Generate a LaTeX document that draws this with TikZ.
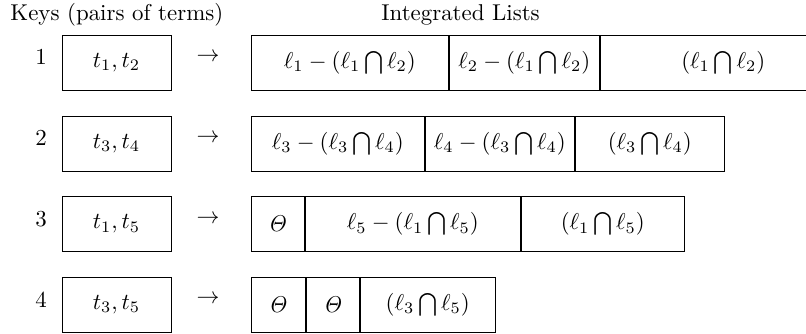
\documentclass[tikz,border=0pt]{standalone}
\begin{document}
\begin{tikzpicture}[x=0.437pt,y=-0.437pt,
  keybox/.style={draw, thin, minimum width=109*0.437pt, minimum height=55*0.437pt, inner sep=0pt},
  cell/.style={draw, thin, anchor=west, minimum height=55*0.437pt, inner sep=0pt},
  lab/.style={inner sep=0pt}]
\useasboundingbox (0,0) rectangle (806,333);
\node[lab, anchor=west] (hk) at (10,15) {Keys (pairs of terms)};
\node[lab, anchor=west] (hl) at (381,15) {Integrated Lists};
% row 1
\node[lab] (n1) at (41,57) {1};
\node[keybox] (k1) at (116.5,62.5) {$t_1, t_2$};
\node[lab] (a1) at (208,57) {$\rightarrow$};
\node[cell, minimum width=197.3*0.437pt] (c11) at (250.7,62.5) {$\ell_1-(\ell_1\bigcap\ell_2)$};
\node[cell, minimum width=150*0.437pt] (c12) at (c11.east) {$\ell_2-(\ell_1\bigcap\ell_2)$};
\node[cell, minimum width=246*0.437pt] (c13) at (c12.east) {$(\ell_1\bigcap\ell_2)$};
% row 2
\node[lab] (n2) at (41,138) {2};
\node[keybox] (k2) at (116.5,143.5) {$t_3, t_4$};
\node[lab] (a2) at (208,138) {$\rightarrow$};
\node[cell, minimum width=173.3*0.437pt] (c21) at (250.7,143.5) {$\ell_3-(\ell_3\bigcap\ell_4)$};
\node[cell, minimum width=149*0.437pt] (c22) at (c21.east) {$\ell_4-(\ell_3\bigcap\ell_4)$};
\node[cell, minimum width=149*0.437pt] (c23) at (c22.east) {$(\ell_3\bigcap\ell_4)$};
% row 3
\node[lab] (n3) at (41,219) {3};
\node[keybox] (k3) at (116.5,224) {$t_1, t_5$};
\node[lab] (a3) at (208,219) {$\rightarrow$};
\node[cell, minimum width=53.3*0.437pt] (c31) at (250.7,224) {$\mathit{\Theta}$};
\node[cell, minimum width=215*0.437pt] (c32) at (c31.east) {$\ell_5-(\ell_1\bigcap\ell_5)$};
\node[cell, minimum width=163*0.437pt] (c33) at (c32.east) {$(\ell_1\bigcap\ell_5)$};
% row 4
\node[lab] (n4) at (41,299.5) {4};
\node[keybox] (k4) at (116.5,304.5) {$t_3, t_5$};
\node[lab] (a4) at (208,299.5) {$\rightarrow$};
\node[cell, minimum width=54.3*0.437pt] (c41) at (250.7,304.5) {$\mathit{\Theta}$};
\node[cell, minimum width=53*0.437pt] (c42) at (c41.east) {$\mathit{\Theta}$};
\node[cell, minimum width=135*0.437pt] (c43) at (c42.east) {$(\ell_3\bigcap\ell_5)$};
\end{tikzpicture}
\end{document}
